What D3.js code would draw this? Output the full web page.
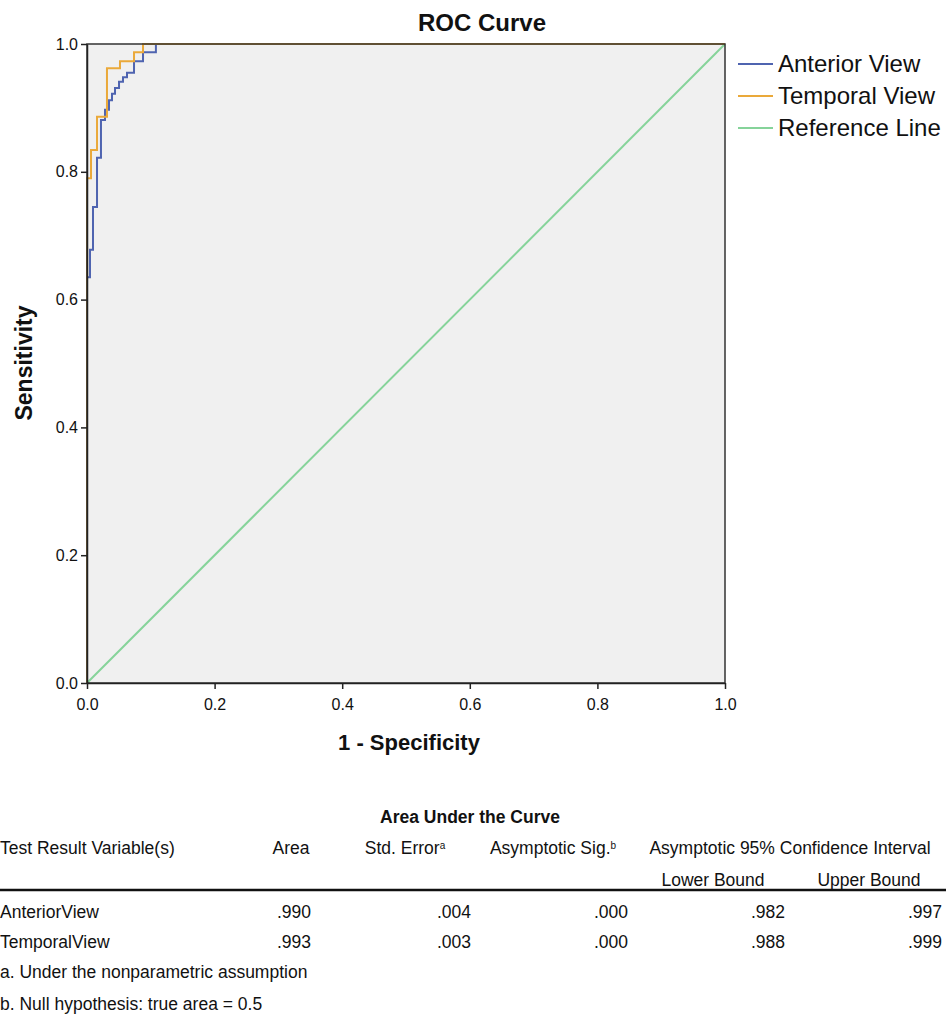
<!DOCTYPE html>
<html>
<head>
<meta charset="utf-8">
<script src="https://cdn.jsdelivr.net/npm/d3@7"></script>
<style>
  body { margin: 0; background: #fff; }
  svg text { font-family: "Liberation Sans", Arial, sans-serif; fill: #111; }
</style>
</head>
<body>
<svg id="chart" width="946" height="1015"></svg>
<script>
// ROC operating points (1 - specificity, sensitivity)
var anteriorFpr = [0, 0, 0.0047, 0.0094, 0.0157, 0.0219, 0.0282, 0.0345, 0.0392, 0.0439, 0.0502, 0.0564, 0.0627, 0.0737, 0.0878, 0.108, 1];
var anteriorTpr = [0, 0.635, 0.678, 0.745, 0.822, 0.881, 0.897, 0.912, 0.922, 0.931, 0.941, 0.948, 0.955, 0.973, 0.987, 1, 1];
var temporalFpr = [0, 0, 0.0063, 0.0157, 0.0313, 0.0517, 0.0737, 0.0878, 1];
var temporalTpr = [0, 0.790, 0.834, 0.886, 0.962, 0.973, 0.987, 1, 1];
var referenceFpr = [0, 1];
var referenceTpr = [0, 1];

var seriesNames = ["Anterior View", "Temporal View", "Reference Line"];
var seriesColors = ["#4f64b0", "#eaa93a", "#86d39a"];
var ticks = [0, 0.2, 0.4, 0.6, 0.8, 1.0];

// table
var tableTitle = "Area Under the Curve";
var rowNames = ["AnteriorView", "TemporalView"];
var areaVals = [".990", ".993"];
var stdErrVals = [".004", ".003"];
var sigVals = [".000", ".000"];
var lowerVals = [".982", ".988"];
var upperVals = [".997", ".999"];
var footnotes = ["a. Under the nonparametric assumption", "b. Null hypothesis: true area = 0.5"];

var svg = d3.select("#chart");

var plot = {left: 87, right: 725, top: 44, bottom: 683};

var x = d3.scaleLinear().domain([0, 1]).range([plot.left, plot.right]);
var y = d3.scaleLinear().domain([0, 1]).range([plot.bottom, plot.top]);

// background
svg.append("rect")
   .attr("x", plot.left).attr("y", plot.top)
   .attr("width", plot.right - plot.left).attr("height", plot.bottom - plot.top)
   .attr("fill", "#f0f0f0");

// title
svg.append("text")
   .attr("x", 482).attr("y", 31)
   .attr("text-anchor", "middle")
   .style("font-size", "24px").style("font-weight", "bold")
   .text("ROC Curve");

// lines
function toPoints(fx, ty){ return fx.map(function(d, i){ return [d, ty[i]]; }); }

var stepLine = d3.line()
    .x(function(d){ return x(d[0]); })
    .y(function(d){ return y(d[1]); })
    .curve(d3.curveStepAfter);

var straightLine = d3.line()
    .x(function(d){ return x(d[0]); })
    .y(function(d){ return y(d[1]); });

svg.append("path")
   .attr("d", straightLine(toPoints(referenceFpr, referenceTpr)))
   .attr("fill", "none").attr("stroke", seriesColors[2]).attr("stroke-width", 2);

svg.append("path")
   .attr("d", stepLine(toPoints(anteriorFpr, anteriorTpr)))
   .attr("fill", "none").attr("stroke", seriesColors[0]).attr("stroke-width", 2);

svg.append("path")
   .attr("d", stepLine(toPoints(temporalFpr, temporalTpr)))
   .attr("fill", "none").attr("stroke", seriesColors[1]).attr("stroke-width", 2);

// frame
svg.append("rect")
   .attr("x", plot.left).attr("y", plot.top)
   .attr("width", plot.right - plot.left).attr("height", plot.bottom - plot.top)
   .attr("fill", "none").attr("stroke", "#333").attr("stroke-width", 1.5);

// axes
var xAxis = svg.append("g")
   .attr("transform", "translate(0," + plot.bottom + ")")
   .call(d3.axisBottom(x).tickValues(ticks).tickFormat(d3.format(".1f")).tickSize(6).tickSizeOuter(0));
var yAxis = svg.append("g")
   .attr("transform", "translate(" + plot.left + ",0)")
   .call(d3.axisLeft(y).tickValues(ticks).tickFormat(d3.format(".1f")).tickSize(6).tickSizeOuter(0));

[xAxis, yAxis].forEach(function(a){
  a.select(".domain").attr("stroke", "#222").attr("stroke-width", 1.5);
  a.selectAll(".tick line").attr("stroke", "#222").attr("stroke-width", 1.5);
  a.selectAll(".tick text").style("font-size", "16px").attr("fill", "#222");
});
xAxis.selectAll(".tick text").attr("dy", "1.1em");

// axis titles
svg.append("text")
   .attr("x", 409).attr("y", 750)
   .attr("text-anchor", "middle")
   .style("font-size", "22px").style("font-weight", "bold")
   .text("1 - Specificity");

svg.append("text")
   .attr("transform", "translate(32,363) rotate(-90)")
   .attr("text-anchor", "middle")
   .style("font-size", "23px").style("font-weight", "bold")
   .text("Sensitivity");

// legend
var legend = svg.append("g").selectAll("g")
   .data(seriesNames).enter().append("g")
   .attr("transform", function(d, i){ return "translate(738," + (64 + i * 32) + ")"; });
legend.append("line")
   .attr("x1", 0).attr("x2", 35)
   .attr("stroke", function(d, i){ return seriesColors[i]; }).attr("stroke-width", 2);
legend.append("text")
   .attr("x", 40).attr("dy", "0.35em")
   .style("font-size", "24px").attr("fill", "#222")
   .text(function(d){ return d; });

// ===== table
var tb = svg.append("g").style("font-size", "17.5px");

tb.append("text").attr("x", 470).attr("y", 823).attr("text-anchor", "middle")
  .style("font-weight", "bold").text(tableTitle);

tb.append("text").attr("x", 0).attr("y", 854).text("Test Result Variable(s)");
tb.append("text").attr("x", 291).attr("y", 854).attr("text-anchor", "middle").text("Area");

var se = tb.append("text").attr("x", 405).attr("y", 854).attr("text-anchor", "middle");
se.append("tspan").text("Std. Error");
se.append("tspan").attr("dy", -5).style("font-size", "10px").text("a");

var sg = tb.append("text").attr("x", 553).attr("y", 854).attr("text-anchor", "middle");
sg.append("tspan").text("Asymptotic Sig.");
sg.append("tspan").attr("dy", -5).style("font-size", "10px").text("b");

tb.append("text").attr("x", 790).attr("y", 854).attr("text-anchor", "middle").text("Asymptotic 95% Confidence Interval");
tb.append("text").attr("x", 713).attr("y", 886).attr("text-anchor", "middle").text("Lower Bound");
tb.append("text").attr("x", 869).attr("y", 886).attr("text-anchor", "middle").text("Upper Bound");

tb.append("line").attr("x1", 0).attr("x2", 946).attr("y1", 890).attr("y2", 890)
  .attr("stroke", "#111").attr("stroke-width", 2.5);

var colRight = [311, 471, 628, 785, 942];
var cols = [areaVals, stdErrVals, sigVals, lowerVals, upperVals];

rowNames.forEach(function(name, r){
  var ry = 918 + r * 30;
  tb.append("text").attr("x", 0).attr("y", ry).text(name);
  cols.forEach(function(vals, c){
    tb.append("text").attr("x", colRight[c]).attr("y", ry).attr("text-anchor", "end").text(vals[r]);
  });
});

footnotes.forEach(function(f, i){
  tb.append("text").attr("x", 0).attr("y", 978 + i * 32).text(f);
});
</script>
</body>
</html>
